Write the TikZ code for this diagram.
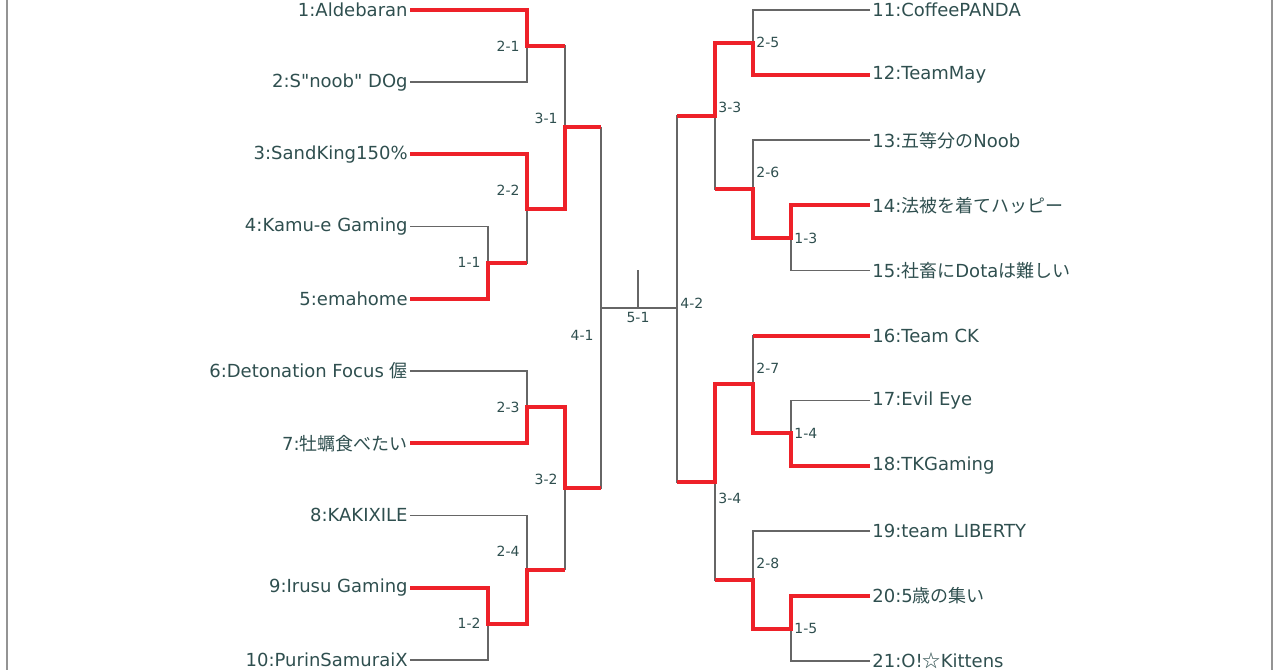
\documentclass[tikz,border=0pt]{standalone}
\usepackage{fontspec}
\setmainfont{DejaVu Sans}
\newfontfamily\jp{Noto Sans CJK JP}
\usepackage{xcolor}
\usetikzlibrary{positioning, calc}
\definecolor{teamtext}{HTML}{2F4F4F}
\definecolor{lossgray}{HTML}{666666}
\definecolor{winred}{HTML}{EE2129}

\begin{document}
\begin{tikzpicture}[
  x=0.5pt, y=-0.5pt,
  lteam/.style={anchor=east, inner sep=1pt, text=teamtext, font=\fontsize{9}{10}\selectfont},
  rteam/.style={anchor=west, inner sep=1pt, text=teamtext, font=\fontsize{9}{10}\selectfont},
  lmatch/.style={anchor=east, inner sep=0pt, text=teamtext, font=\fontsize{7}{8}\selectfont},
  rmatch/.style={anchor=west, inner sep=0pt, text=teamtext, font=\fontsize{7}{8}\selectfont},
  loss/.style={draw=lossgray, line width=0.8pt},
  win/.style={draw=winred, line width=2pt},
  frame/.style={draw=lossgray!70, line width=1pt},
]
  \useasboundingbox (0,0) rectangle (1280,670);

  % Frame
  \draw [frame] (7,0) -- (7,670);
  \draw [frame] (1272,0) -- (1272,670);

  % Left teams
  \node (t1) [lteam] at (410,10.0) {1:Aldebaran};
  \node (t2) [lteam] at (410,82.2) {2:S\textquotedbl noob\textquotedbl{} DOg};
  \node (t3) [lteam] at (410,154.4) {3:SandKing150\%};
  \node (t4) [lteam] at (410,226.6) {4:Kamu-e Gaming};
  \node (t5) [lteam] at (410,298.8) {5:emahome};
  \node (t6) [lteam] at (410,371.0) {6:Detonation Focus {\jp 偓}};
  \node (t7) [lteam] at (410,443.2) {7:{\jp 牡蠣食べたい}};
  \node (t8) [lteam] at (410,515.4) {8:KAKIXILE};
  \node (t9) [lteam] at (410,587.6) {9:Irusu Gaming};
  \node (t10) [lteam] at (410,659.8) {10:PurinSamuraiX};

  % Right teams
  \node (t11) [rteam] at (870,10.0) {11:CoffeePANDA};
  \node (t12) [rteam] at (870,75.1) {12:TeamMay};
  \node (t13) [rteam] at (870,140.2) {13:{\jp 五等分の}Noob};
  \node (t14) [rteam] at (870,205.3) {14:{\jp 法被を着てハッピー}};
  \node (t15) [rteam] at (870,270.4) {15:{\jp 社畜に}Dota{\jp は難しい}};
  \node (t16) [rteam] at (870,335.5) {16:Team CK};
  \node (t17) [rteam] at (870,400.6) {17:Evil Eye};
  \node (t18) [rteam] at (870,465.7) {18:TKGaming};
  \node (t19) [rteam] at (870,530.8) {19:team LIBERTY};
  \node (t20) [rteam] at (870,595.9) {20:5{\jp 歳の集い}};
  \node (t21) [rteam] at (870,661.0) {21:O!{\jp ☆}Kittens};

  % Match joints
  \coordinate (m11) at (488,262.7);
  \coordinate (m12) at (488,623.7);
  \coordinate (m21) at (527,46.1);
  \coordinate (m22) at (527,208.6);
  \coordinate (m23) at (527,407.1);
  \coordinate (m24) at (527,569.6);
  \coordinate (m31) at (565,127.4);
  \coordinate (m32) at (565,488.4);
  \coordinate (m41) at (601,308);
  \coordinate (m51) at (638,308);
  \coordinate (m42) at (677,308);
  \coordinate (m33) at (715,115.9);
  \coordinate (m34) at (715,482.1);
  \coordinate (m25) at (753,42.6);
  \coordinate (m26) at (753,189.1);
  \coordinate (m27) at (753,384.4);
  \coordinate (m28) at (753,579.7);
  \coordinate (m13) at (791,237.9);
  \coordinate (m14) at (791,433.2);
  \coordinate (m15) at (791,628.5);

  % Bracket lines (gray)
  \foreach \a/\b/\m in {t1.east/t2.east/m21, t4.east/t5.east/m11, t3.east/m11/m22, m21/m22/m31,
    t6.east/t7.east/m23, t9.east/t10.east/m12, t8.east/m12/m24, m23/m24/m32, m31/m32/m41,
    t11.west/t12.west/m25, t14.west/t15.west/m13, t13.west/m13/m26, m25/m26/m33,
    t17.west/t18.west/m14, t16.west/m14/m27, t20.west/t21.west/m15, t19.west/m15/m28,
    m27/m28/m34, m33/m34/m42} {
    \draw [loss] (\a) -| (\m) |- (\b);
  }
  \draw [loss] (m41) -- (m42);
  \draw [loss] (m51) -- ++(0,-38);

  % Winners (red)
  \foreach \w/\m/\n in {t5.east/m11/m22, t9.east/m12/m24, t1.east/m21/m31, t3.east/m22/m31,
    t7.east/m23/m32, m12/m24/m32, m22/m31/m41, m23/m32/m41,
    t12.west/m25/m33, t14.west/m13/m26, m13/m26/m33, m25/m33/m42,
    t18.west/m14/m27, m14/m27/m34, t20.west/m15/m28, m15/m28/m34, m27/m34/m42} {
    \draw [win] (\w) -| (\m) -- (\m -| \n);
  }
  \draw [win] (t16.west) -- (t16.west -| m27);

  % Match labels
  \foreach \lab/\nm/\x/\y in {2-1/21/520/46.1, 3-1/31/558/118.3, 2-2/22/520/190.5, 1-1/11/481/262.7,
    4-1/41/594/334.9, 2-3/23/520/407.1, 3-2/32/558/479.3, 2-4/24/520/551.5, 1-2/12/481/623.7} {
    \node (lab\nm) [lmatch] at (\x,\y) {\lab};
  }
  \foreach \lab/\nm/\x/\y in {2-5/25/756/42.6, 3-3/33/718/107.7, 2-6/26/756/172.8, 1-3/13/794/237.9,
    4-2/42/680/303.0, 2-7/27/756/368.1, 1-4/14/794/433.2, 3-4/34/718/498.3, 2-8/28/756/563.4,
    1-5/15/794/628.5} {
    \node (lab\nm) [rmatch] at (\x,\y) {\lab};
  }
  \node (lab51) [lmatch, anchor=north] at (638,312) {5-1};

\end{tikzpicture}
\end{document}
